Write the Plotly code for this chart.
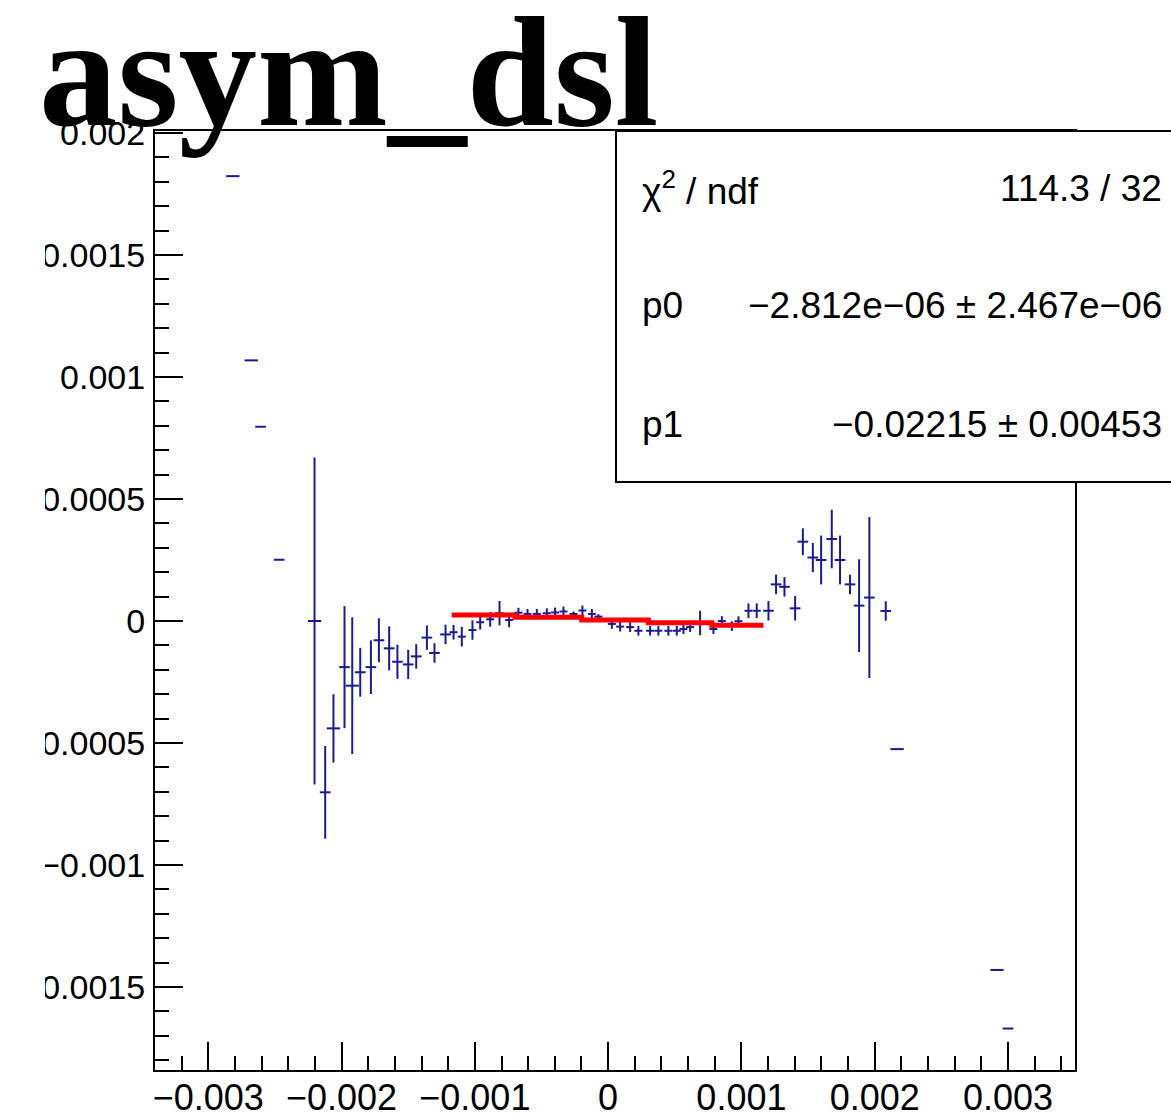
import plotly.graph_objects as go

# ---------------- data ----------------
x_vals = [-0.002816, -0.002678, -0.002608, -0.002468,
          -0.002203, -0.002123, -0.002061, -0.001978, -0.001920, -0.001860, -0.001780, -0.001720,
          -0.001643, -0.001581, -0.001500, -0.001440, -0.001360, -0.001303, -0.001220, -0.001160,
          -0.001098, -0.001018, -0.000960, -0.000885, -0.000815, -0.000743, -0.000673, -0.000605,
          -0.000535, -0.000460, -0.000398, -0.000335, -0.000260, -0.000193, -0.000122, -0.000073,
          0.000028, 0.000090, 0.000165, 0.000227, 0.000315, 0.000377, 0.000452, 0.000515,
          0.000565, 0.000615, 0.000690, 0.000790, 0.000853, 0.000928, 0.000978,
          0.001053, 0.001115, 0.001203, 0.001260, 0.001323, 0.001403, 0.001461, 0.001536,
          0.001598, 0.001678, 0.001740, 0.001815, 0.001883, 0.001960, 0.002083,
          0.002168, 0.002918, 0.003000]

y_vals = [0.001823, 0.001068, 0.000796, 0.000251,
          0.0, -0.000702, -0.000440, -0.000189, -0.000265, -0.000210, -0.000189, -0.000079,
          -0.000112, -0.000167, -0.000178, -0.000145, -0.000068, -0.000131, -0.000055, -0.000046,
          -0.000064, -0.000037, -0.000005, 0.000007, 0.000032, 0.000004, 0.000034, 0.000029,
          0.000029, 0.000032, 0.000035, 0.000039, 0.000029, 0.000043, 0.000029, 0.000018,
          -0.000012, -0.000023, -0.000025, -0.000040, -0.000040, -0.000040, -0.000040, -0.000040,
          -0.000033, -0.000025, -0.000008, -0.000033, 0.000000, -0.000021, -0.000001,
          0.000042, 0.000042, 0.000042, 0.000150, 0.000140, 0.000052, 0.000325, 0.000260,
          0.000250, 0.000336, 0.000250, 0.000150, 0.000063, 0.000096, 0.000041,
          -0.000525, -0.001430, -0.001670]

y_err = [0, 0, 0, 0,
         0.00067, 0.00019, 0.00014, 0.00025, 0.00028, 0.00010, 0.00011, 0.00009,
         0.00009, 0.00007, 0.00006, 0.00005, 0.00005, 0.00004, 0.00004, 0.00003,
         0.00004, 0.00004, 0.00003, 0.00003, 0.00005, 0.00003, 0.00002, 0.00002,
         0.00002, 0.00002, 0.00002, 0.00002, 0.00001, 0.00002, 0.00002, 0.00001,
         0.00002, 0.00002, 0.00002, 0.00002, 0.00002, 0.00002, 0.00002, 0.00002,
         0.00002, 0.00002, 0.00005, 0.00002, 0.00002, 0.00002, 0.00002,
         0.00003, 0.00003, 0.00004, 0.00004, 0.00004, 0.00005, 0.000055, 0.00006,
         0.00010, 0.00012, 0.00010, 0.00004, 0.00019, 0.00033, 0.00004,
         0, 0, 0]

x_err = [0.00005, 0.00005, 0.00004, 0.00004,
         0.00005, 0.00004, 0.00005, 0.00004, 0.00005, 0.00004, 0.00004, 0.00004,
         0.00004, 0.00004, 0.00004, 0.00004, 0.00004, 0.00004, 0.00004, 0.00003,
         0.00003, 0.00003, 0.00003, 0.00003, 0.00003, 0.00003, 0.00003, 0.00003,
         0.00003, 0.00003, 0.00003, 0.00003, 0.00003, 0.00003, 0.00003, 0.00003,
         0.00003, 0.00003, 0.00003, 0.00003, 0.00003, 0.00003, 0.00003, 0.00003,
         0.00003, 0.00003, 0.00003, 0.00003, 0.00003, 0.00003, 0.00003,
         0.00003, 0.00003, 0.00004, 0.00004, 0.00004, 0.00004, 0.00004, 0.00004,
         0.00004, 0.00004, 0.00004, 0.00004, 0.00004, 0.00004, 0.00004,
         0.00005, 0.00005, 0.00004]

# fitted pol1 as drawn (step levels)
fit_x = [-0.001173, -0.000698, -0.000198, 0.000302, 0.000778, 0.001165]
fit_y = [0.0000246, 0.0000152, 0.0000041, -0.0000070, -0.0000177, -0.0000177]

x_tickvals = [-0.003, -0.002, -0.001, 0, 0.001, 0.002, 0.003]
x_ticktext = ["\u22120.003", "\u22120.002", "\u22120.001", "0", "0.001", "0.002", "0.003"]
y_tickvals = [-0.0015, -0.001, -0.0005, 0, 0.0005, 0.001, 0.0015, 0.002]
y_ticktext = ["\u22120.0015", "\u22120.001", "\u22120.0005", "0", "0.0005", "0.001", "0.0015", "0.002"]

stat_labels = ["\u03c7<sup>2</sup> / ndf", "p0", "p1"]
stat_values = ["114.3 / 32", "\u22122.812e\u221206 \u00b1 2.467e\u221206", "\u22120.02215 \u00b1 0.00453"]

title_text = "asym_dsl"

# ---------------- figure ----------------
W, H = 1171, 1119
L, R, T, B = 155, 96, 131, 49
pw, ph = W - L - R, H - T - B

def px_x(p):
    return (p - L) / pw

def px_y(p):
    return (H - B - p) / ph

blue = "#1a1a9a"
fig = go.Figure()
fig.add_trace(go.Scatter(
    x=x_vals, y=y_vals, mode="markers",
    marker=dict(size=1, color=blue),
    error_y=dict(type="data", array=y_err, visible=True, color=blue, thickness=2, width=0),
    error_x=dict(type="data", array=x_err, visible=True, color=blue, thickness=2, width=0),
    showlegend=False, hoverinfo="x+y"))
fig.add_trace(go.Scatter(
    x=fit_x, y=fit_y, mode="lines", line=dict(color="#ff0000", width=5, shape="hv"),
    showlegend=False))

xtickfont = dict(family="Liberation Sans, Arial, sans-serif", size=36, color="black")
ytickfont = dict(family="Liberation Sans, Arial, sans-serif", size=34, color="black")
fig.update_xaxes(range=[-0.0034, 0.003503], tickmode="array", tickvals=x_tickvals, ticktext=x_ticktext,
                 ticks="inside", ticklen=28, tickwidth=2, tickcolor="black",
                 minor=dict(dtick=0.0002, tick0=0, ticks="inside", ticklen=14, tickwidth=2, tickcolor="black"),
                 showline=True, linecolor="black", linewidth=2, mirror=True,
                 showgrid=False, zeroline=False, tickfont=xtickfont, ticklabelstandoff=-5)
fig.update_yaxes(range=[-0.00184, 0.002008], tickmode="array", tickvals=y_tickvals, ticktext=y_ticktext,
                 ticks="inside", ticklen=28, tickwidth=2, tickcolor="black",
                 minor=dict(dtick=0.0001, tick0=0, ticks="inside", ticklen=14, tickwidth=2, tickcolor="black"),
                 showline=True, linecolor="black", linewidth=2, mirror=True,
                 showgrid=False, zeroline=False, tickfont=ytickfont, ticklabelstandoff=1)

# left canvas edge clips the long y labels in the original
fig.add_shape(type="rect", xref="paper", yref="paper",
              x0=px_x(-5), x1=px_x(45), y0=px_y(H + 5), y1=px_y(-5),
              line=dict(width=0), fillcolor="white", layer="above")

# stats box
fig.add_shape(type="rect", xref="paper", yref="paper",
              x0=px_x(616), x1=px_x(1190), y0=px_y(482), y1=px_y(131),
              line=dict(color="black", width=2), fillcolor="white", layer="above")

statfont = dict(family="Liberation Sans, Arial, sans-serif", size=37, color="black")
for lab, val, py in zip(stat_labels, stat_values, [188, 305, 425]):
    fig.add_annotation(xref="paper", yref="paper", x=px_x(640), y=px_y(py), text=lab,
                       showarrow=False, xanchor="left", yanchor="middle", font=statfont)
    fig.add_annotation(xref="paper", yref="paper", x=px_x(1164), y=px_y(py), text=val,
                       showarrow=False, xanchor="right", yanchor="middle", font=statfont)

# big title
fig.add_annotation(xref="paper", yref="paper", x=px_x(37), y=px_y(72), text="<b>" + title_text + "</b>",
                   showarrow=False, xanchor="left", yanchor="middle",
                   font=dict(family="Liberation Serif, Times New Roman, serif", size=157, color="black"))

fig.update_layout(width=W, height=H, margin=dict(l=L, r=R, t=T, b=B, autoexpand=False),
                  paper_bgcolor="white", plot_bgcolor="white")
fig.write_html("out.html", config={"displayModeBar": False},
               post_script="document.body.style.margin='0';document.body.style.overflow='hidden';")
